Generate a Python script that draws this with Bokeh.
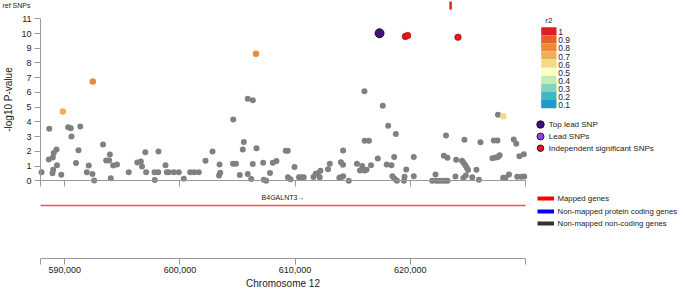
from bokeh.plotting import figure
from bokeh.models import Range1d, LinearAxis, FixedTicker, NumeralTickFormatter, Label, ColumnDataSource
from bokeh.core.properties import value
from bokeh.embed import file_html
from bokeh.resources import INLINE

# ---------------- data ----------------
chrom_label = "Chromosome 12"
x_min, x_max = 587900, 630000
x_ticks = [590000, 600000, 610000, 620000]
y_ticks = list(range(0, 12))

other_pos = [
    587990, 588660, 588620, 588970, 589050, 589290, 589330, 589000, 588940, 589700,
    590300, 590530, 590590, 591350, 591200, 590980, 592090, 591920, 592410, 592560,
    593330, 593600, 593860, 593920, 594210, 594540, 594000, 595560, 596300, 596610,
    596710, 597000, 597070, 597800, 598120, 597820, 598140, 598750, 598860, 599040,
    599470, 599900, 600340, 600890, 601240, 601640, 602220, 602830, 603440, 603500,
    603400, 604630, 604610, 604870, 605550, 605460, 605200, 605890, 606330, 605890,
    606190, 606330, 606650, 607230, 607280, 607490, 607820, 608060, 608380, 609190,
    609370, 609950, 609380, 609600, 610340, 610540, 610750, 611600, 611790, 611970,
    612200, 612140, 612860, 613010, 613840, 614000, 614170, 613980, 614160, 614170,
    614660, 615370, 615630, 615820, 616020, 616200, 616040, 616410, 616020, 616590,
    617180, 617610, 617950, 618080, 618740, 618370, 618600, 618450, 618630, 618840,
    619450, 619500, 619650, 620300, 620300, 621900, 622250, 622490, 622750, 623000,
    623230, 622190, 623100, 622910, 623230, 623920, 623980, 624490, 624640, 624790,
    624920, 625010, 624700, 624600, 624810, 625380, 625740, 625960, 626090, 627250,
    627570, 627130, 627420, 627610, 627760, 627610, 628060, 628260, 628570, 628980,
    629200, 629280, 629630, 629890, 629470, 629850]
other_logp = [
    0.58, 3.53, 1.45, 1.58, 1.89, 2.12, 1.05, 0.75, 0.52, 0.41,
    3.64, 3.57, 3.00, 3.69, 2.08, 1.21, 1.04, 0.58, 0.47, 0.02,
    2.47, 1.38, 1.38, 1.79, 1.04, 1.11, 0.18, 0.58, 1.24, 1.31,
    0.97, 1.94, 0.58, 0.58, 0.58, 0.05, 1.99, 1.05, 0.58, 0.58,
    0.58, 0.58, 0.14, 0.58, 0.58, 0.58, 1.36, 1.99, 1.11, 0.54,
    0.36, 4.16, 1.15, 1.15, 2.63, 2.12, 0.39, 5.57, 5.47, 0.46,
    0.12, 1.14, 2.21, 1.23, 0.07, 0.01, 0.53, 1.22, 1.34, 2.04,
    2.04, 0.94, 0.24, 0.10, 0.24, 0.24, 0.24, 0.26, 0.48, 0.51,
    0.68, 0.24, 0.79, 1.15, 0.21, 0.24, 0.31, 1.26, 1.09, 2.06,
    0.01, 1.15, 0.70, 1.00, 0.70, 0.75, 2.72, 2.72, 6.08, 1.05,
    1.51, 5.09, 1.11, 3.73, 3.18, 1.06, 1.62, 0.31, 0.14, 0.01,
    0.01, 0.27, 0.77, 1.62, 0.31, 0.00, 0.00, 0.00, 0.00, 0.00,
    0.00, 0.43, 3.08, 1.70, 1.56, 0.29, 1.43, 1.36, 1.21, 1.04,
    0.87, 0.73, 2.79, 0.19, 0.36, 0.24, 0.75, 0.07, 2.62, 2.74,
    2.74, 1.53, 1.58, 1.62, 1.73, 4.48, 0.21, 0.20, 0.43, 2.80,
    2.51, 0.27, 0.27, 0.29, 1.66, 1.80]

ld_pos = [589840, 592440, 606600, 628070]
ld_logp = [4.70, 6.74, 8.62, 4.39]
ld_r2 = [0.72, 0.83, 0.85, 0.64]

top_lead_pos = [617330]
top_lead_logp = [10.02]
indep_pos = [619570, 619770, 624140]
indep_logp = [9.80, 9.86, 9.75]
ref_snp_pos = [623500]

r2_levels = [1.0, 0.9, 0.8, 0.7, 0.6, 0.5, 0.4, 0.3, 0.2, 0.1]
r2_labels = ["1", "0.9", "0.8", "0.7", "0.6", "0.5", "0.4", "0.3", "0.2", "0.1"]
r2_colors = ["#dc1f22", "#e5602a", "#ec8a3c", "#eeae5a", "#f3d98c",
             "#ffffc6", "#c3ebb8", "#7fd5bf", "#3db7c7", "#1f9bcb"]

snp_legend_labels = ["Top lead SNP", "Lead SNPs", "Independent significant SNPs"]
snp_legend_fill = ["#44107f", "#9b3ff0", "#e41a1c"]

gene_name = "B4GALNT3"
gene_start, gene_end = 569559, 679481
gene_legend_labels = ["Mapped genes", "Non-mapped protein coding genes", "Non-mapped non-coding genes"]
gene_legend_colors = ["#ff0000", "#0000ff", "#333333"]

# ---------------- layout ----------------
FONT = "Liberation Sans"
TXT = "#222222"
AX = "#999999"
W, H = 677, 288
XL = 40            # canvas px of x_min (left end of the tracks)
S = (525 - 40) / (x_max - x_min)   # px per bp
PXU = (180.3 - 18.3) / 11.0        # px per -log10 unit
Y0PX = 180.3                       # canvas px of y = 0
AXIS_PX = 258                      # canvas px of the chromosome axis


def xd(px):
    return x_min + (px - XL) / S


def yd(py):
    return (Y0PX - py) / PXU


p = figure(width=W, height=H, output_backend="svg", toolbar_location=None,
           x_range=Range1d(xd(0), xd(W)), y_range=Range1d(yd(H), yd(0)),
           x_axis_type=None, y_axis_type=None,
           min_border_left=0, min_border_right=0, min_border_top=0, min_border_bottom=0)
p.outline_line_color = None
p.background_fill_color = "white"
p.border_fill_color = "white"

end_ticks = [x_min] + x_ticks + [x_max]
yax = LinearAxis(ticker=FixedTicker(ticks=y_ticks), bounds=(0, 11),
                 fixed_location=x_min, axis_label="-log10 P-value")
xax = LinearAxis(ticker=FixedTicker(ticks=end_ticks), bounds=(x_min, x_max),
                 fixed_location=yd(AXIS_PX),
                 formatter=NumeralTickFormatter(format="0,0"),
                 major_label_overrides={x_min: "", x_max: ""},
                 axis_label=chrom_label)
sax = LinearAxis(ticker=FixedTicker(ticks=end_ticks), bounds=(x_min, x_max),
                 fixed_location=0)
for ax in (yax, xax, sax):
    ax.axis_line_color = AX
    ax.major_tick_line_color = AX
    ax.minor_tick_line_color = None
    ax.major_tick_in = 0
    ax.major_tick_out = 6
    ax.major_label_text_font = FONT
    ax.major_label_text_font_size = "9px"
    ax.major_label_text_color = TXT
    ax.axis_label_text_font = FONT
    ax.axis_label_text_font_size = "10px"
    ax.axis_label_text_font_style = "normal"
    ax.axis_label_text_color = TXT
sax.major_label_text_color = None
yax.major_label_standoff = 3
yax.axis_label_standoff = 4
xax.major_label_standoff = 2
xax.axis_label_standoff = 2
p.add_layout(yax, "left")
p.add_layout(xax, "below")
p.add_layout(sax, "below")

# ref SNPs row
p.add_layout(Label(x=xd(2), y=yd(5), text="ref SNPs", text_font=FONT,
                   text_font_size="7px", text_color=TXT, text_baseline="middle"))
p.segment(x0=ref_snp_pos, y0=[yd(1)] * len(ref_snp_pos), x1=ref_snp_pos,
          y1=[yd(9)] * len(ref_snp_pos), line_color="#ee2222", line_width=2.5)

# scatter points
p.scatter(other_pos, other_logp, size=6, fill_color="#808080", line_color=None)


def r2_color(r):
    for lev, col in zip(r2_levels, r2_colors):
        if r >= lev - 1e-9:
            return col
    return "#808080"


ld_src = ColumnDataSource(dict(x=ld_pos, y=ld_logp, c=[r2_color(r) for r in ld_r2]))
p.scatter("x", "y", source=ld_src, size=6.5, fill_color="c", line_color=None)
p.scatter(indep_pos, indep_logp, size=6.5, fill_color="#e41a1c", line_color="#9a0000", line_width=0.6)
p.scatter(top_lead_pos, top_lead_logp, size=9, fill_color="#44107f", line_color="black", line_width=0.8)

# gene track
vis_s, vis_e = max(gene_start, x_min), min(gene_end, x_max)
p.segment(x0=[vis_s], y0=[yd(205)], x1=[vis_e], y1=[yd(205)],
          line_color="#e8383d", line_alpha=0.85, line_width=1.5)
p.add_layout(Label(x=(vis_s + vis_e) / 2, y=yd(197), text=gene_name + "\u2192",
                   text_font=FONT, text_font_size="7px", text_color=TXT,
                   text_align="center", text_baseline="middle"))

# r2 colour bar
p.add_layout(Label(x=xd(548.3), y=yd(20), text="r2", text_font=FONT, text_font_size="8px",
                   text_color=TXT, text_align="center", text_baseline="middle"))
BY, BH = 26.7, 8.1
tops = [yd(BY + i * BH) for i in range(len(r2_levels))]
bots = [yd(BY + (i + 1) * BH) for i in range(len(r2_levels))]
p.quad(left=xd(540.7), right=xd(556), top=tops, bottom=bots, fill_color=r2_colors, line_color=None)
p.text(x=[xd(557.7)] * len(r2_labels), y=[yd(BY + (i + 0.5) * BH + 1) for i in range(len(r2_labels))],
       text=r2_labels, text_font=value(FONT), text_font_size="8.5px", text_color=TXT,
       text_baseline="middle", text_align="left")

# SNP legend
leg_y = [124, 136, 147.7]
p.scatter([xd(540)] * 3, [yd(v) for v in leg_y], size=[7.5, 7, 6.5],
          fill_color=snp_legend_fill, line_color="black", line_width=0.8)
p.text(x=[xd(548.3)] * 3, y=[yd(v) for v in leg_y], text=snp_legend_labels,
       text_font=value(FONT), text_font_size="8px", text_color=TXT,
       text_baseline="middle", text_align="left")

# gene legend
gl_y = [198, 211, 223]
p.quad(left=xd(537), right=xd(553.5), top=[yd(v - 2) for v in gl_y], bottom=[yd(v + 2) for v in gl_y],
       fill_color=gene_legend_colors, line_color=None)
p.text(x=[xd(557)] * 3, y=[yd(v) for v in gl_y], text=gene_legend_labels,
       text_font=value(FONT), text_font_size="7.8px", text_color=TXT,
       text_baseline="middle", text_align="left")

open("out.html", "w").write(file_html(p, INLINE))
